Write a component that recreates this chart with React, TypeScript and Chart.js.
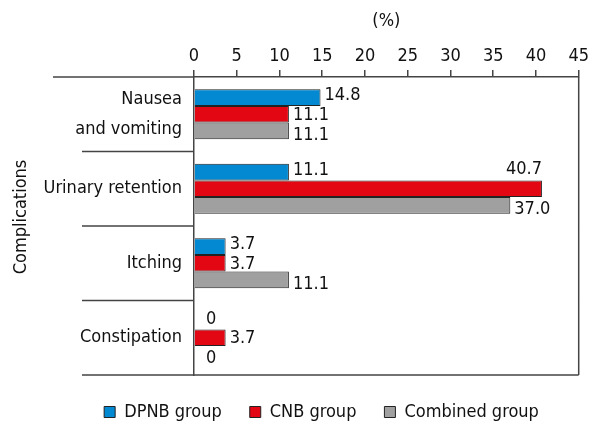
import React, { useEffect, useRef } from "react";
import { Chart, registerables } from "chart.js";

Chart.register(...registerables);

const categories: (string | string[])[] = [["Nausea", "and vomiting"], "Urinary retention", "Itching", "Constipation"];
const seriesNames = ["DPNB group", "CNB group", "Combined group"];
const dpnb = [14.8, 11.1, 3.7, 0];
const cnb = [11.1, 40.7, 3.7, 3.7];
const combined = [11.1, 37.0, 11.1, 0];
const xMin = 0;
const xMax = 45;
const xStep = 5;
const xTitle = "(%)";
const yTitle = "Complications";

const colors = ["#0289D1", "#E30613", "#A0A0A0"];
const FONT = "'DejaVu Sans Condensed', 'Liberation Sans Narrow', sans-serif";
const FS = 18;
const LINE = "#444444";
const TEXT = "#111111";

const valueLabels = {
  id: "valueLabels",
  afterDatasetsDraw(chart: any) {
    const ctx = chart.ctx;
    const area = chart.chartArea;
    const zero = chart.scales.x.getPixelForValue(0);
    ctx.save();
    ctx.font = `${FS}px ${FONT}`;
    ctx.fillStyle = TEXT;
    ctx.textBaseline = "middle";
    chart.data.datasets.forEach((ds: any, di: number) => {
      const meta = chart.getDatasetMeta(di);
      const dy = [-2, 1, 4][di];
      meta.data.forEach((bar: any, i: number) => {
        const v = ds.data[i];
        const text = v === 0 ? "0" : v.toFixed(1);
        const w = ctx.measureText(text).width;
        let x = bar.x + 4;
        let y = bar.y + dy;
        ctx.textAlign = "left";
        if (v === 0) x = zero + 12;
        if (x + w > area.right - 8) {
          ctx.textAlign = "right";
          x = bar.x;
          y = bar.y - bar.height - 3;
        }
        ctx.fillText(text, x, y);
      });
    });
    ctx.restore();
  },
};

const frameLines = {
  id: "frameLines",
  afterLayout(chart: any) {
    const lg = chart.legend;
    if (lg) {
      lg.left += 31;
      lg.right += 31;
    }
  },
  afterDraw(chart: any) {
    const ctx = chart.ctx;
    const { left, right, top, bottom } = chart.chartArea;
    const n = chart.data.labels.length;
    const step = (bottom - top) / n;
    ctx.save();
    ctx.strokeStyle = LINE;
    ctx.lineWidth = 1.5;
    ctx.beginPath();
    ctx.moveTo(left - 141, top);
    ctx.lineTo(left, top);
    for (let k = 1; k < n; k++) {
      const y = top + k * step;
      ctx.moveTo(left - 112, y);
      ctx.lineTo(left, y);
    }
    ctx.moveTo(left - 112, bottom);
    ctx.lineTo(right, bottom);
    ctx.moveTo(right, top);
    ctx.lineTo(right, bottom);
    ctx.stroke();
    // rotated axis title
    ctx.translate(21, (top + bottom) / 2 - 9);
    ctx.rotate(-Math.PI / 2);
    ctx.font = `${FS}px ${FONT}`;
    ctx.fillStyle = TEXT;
    ctx.textAlign = "center";
    ctx.textBaseline = "middle";
    ctx.fillText(yTitle, 0, 0);
    ctx.restore();
  },
};

export default function App() {
  const ref = useRef<HTMLCanvasElement | null>(null);
  useEffect(() => {
    if (!ref.current) return;
    const series = [dpnb, cnb, combined];
    const chart = new Chart(ref.current, {
      type: "bar",
      data: {
        labels: categories,
        datasets: series.map((d, i) => ({
          label: seriesNames[i],
          data: d,
          backgroundColor: colors[i],
          borderColor: "#222222",
          borderWidth: (c: any) => (c.raw === 0 ? 0 : 1),
          barPercentage: 1,
          categoryPercentage: 0.67,
        })),
      },
      options: {
        indexAxis: "y",
        animation: false,
        responsive: false,
        devicePixelRatio: 1,
        layout: { padding: { left: 0, right: 11, top: 0, bottom: -5 } },
        scales: {
          x: {
            position: "top",
            min: xMin,
            max: xMax,
            afterFit: (s: any) => {
              s.height = 77;
            },
            ticks: { stepSize: xStep, color: TEXT, font: { family: FONT, size: FS }, padding: 3 },
            grid: { drawOnChartArea: false, tickLength: 7, color: LINE, lineWidth: 1.5 },
            border: { display: true, color: LINE, width: 1.5 },
            title: { display: true, text: xTitle, color: TEXT, font: { family: FONT, size: FS }, padding: { top: 11, bottom: 0 } },
          },
          y: {
            position: "left",
            afterFit: (s: any) => {
              s.width = 194;
            },
            ticks: { color: TEXT, font: { family: FONT, size: FS, lineHeight: 1.7 }, padding: 12 },
            grid: { display: false, drawTicks: false },
            border: { display: true, color: LINE, width: 1.5 },
            title: { display: false },
          },
        },
        plugins: {
          legend: {
            position: "bottom",
            labels: { color: TEXT, font: { family: FONT, size: FS }, boxWidth: 11, boxHeight: 11, padding: 28 },
          },
          tooltip: { enabled: false },
        },
      } as any,
      plugins: [valueLabels, frameLines],
    });
    return () => chart.destroy();
  }, []);
  return (
    <div style={{ position: "absolute", left: 0, top: 0, width: 592, height: 426, background: "#fff" }}>
      <canvas ref={ref} width={592} height={426} style={{ display: "block" }} />
    </div>
  );
}
